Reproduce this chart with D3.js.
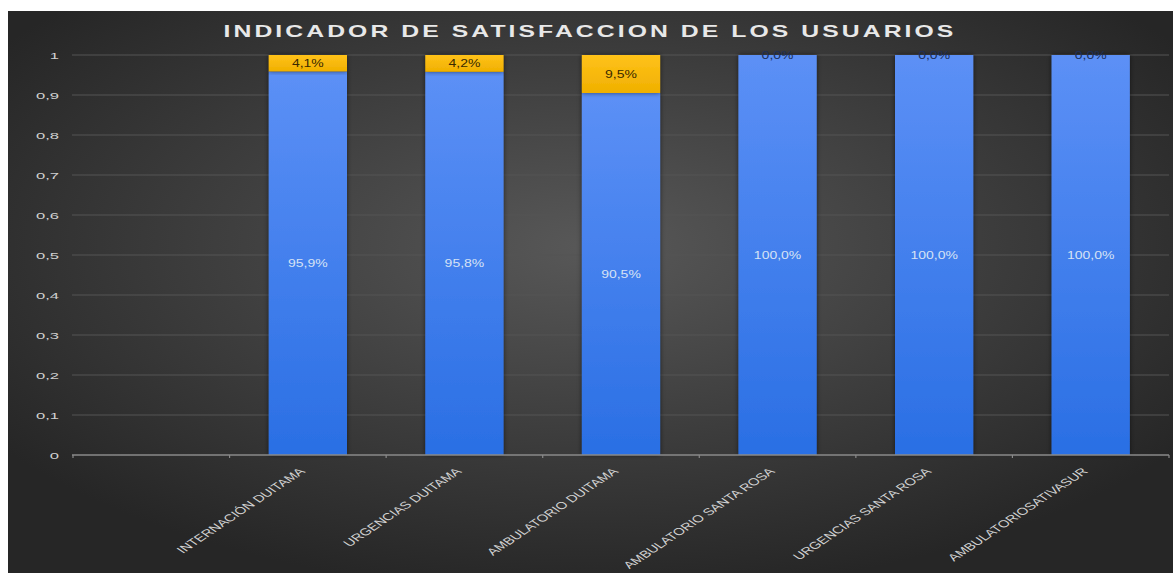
<!DOCTYPE html>
<html><head><meta charset="utf-8">
<script src="https://cdn.jsdelivr.net/npm/d3@7"></script>
<style>html,body{margin:0;padding:0;background:#fff;}svg{display:block;}</style>
</head><body>
<svg id="c" width="1173" height="573"></svg>
<script>
const categories = ["", "INTERNACIÓN DUITAMA", "URGENCIAS DUITAMA", "AMBULATORIO DUITAMA", "AMBULATORIO SANTA ROSA", "URGENCIAS SANTA ROSA", "AMBULATORIOSATIVASUR"];
const satisfied = [null, 0.959, 0.958, 0.905, 1.0, 1.0, 1.0];
const notSatisfied = [null, 0.041, 0.042, 0.095, 0.0, 0.0, 0.0];
const yTicks = [0, 0.1, 0.2, 0.3, 0.4, 0.5, 0.6, 0.7, 0.8, 0.9, 1];
const title = "INDICADOR DE SATISFACCION DE LOS USUARIOS";

const FONT = "Liberation Sans, Arial, sans-serif";
const SX = 1.5; // horizontal stretch of the original picture
const svg = d3.select("#c");
const W = 1173, H = 573;
const defs = svg.append("defs");
const bg = defs.append("radialGradient").attr("id","bg").attr("cx","50%").attr("cy","42%").attr("r","62%");
bg.append("stop").attr("offset","0%").attr("stop-color","#585858");
bg.append("stop").attr("offset","100%").attr("stop-color","#262626");
const gb = defs.append("linearGradient").attr("id","gb").attr("x1",0).attr("y1",0).attr("x2",0).attr("y2",1);
gb.append("stop").attr("offset","0%").attr("stop-color","#5c90f6");
gb.append("stop").attr("offset","100%").attr("stop-color","#2a6fe4");
const gy = defs.append("linearGradient").attr("id","gy").attr("x1",0).attr("y1",0).attr("x2",0).attr("y2",1);
gy.append("stop").attr("offset","0%").attr("stop-color","#ffc21a");
gy.append("stop").attr("offset","100%").attr("stop-color","#f0b000");
const sh = defs.append("filter").attr("id","sh").attr("x","-20%").attr("y","-20%").attr("width","140%").attr("height","140%");
sh.append("feDropShadow").attr("dx",0).attr("dy",0).attr("stdDeviation",2.5).attr("flood-color","#000").attr("flood-opacity",0.55);

svg.append("rect").attr("x",8).attr("y",11).attr("width",W-8).attr("height",H-11).attr("fill","url(#bg)");

const x = d3.scaleBand().domain(categories.map((d,i)=>i)).range([73,1169]).paddingInner(0.5).paddingOuter(0.25);
const xb = d3.scaleBand().domain(categories.map((d,i)=>i)).range([73,1169]);
const y = d3.scaleLinear().domain([0,1]).range([455,55]);

// gridlines
svg.append("g").selectAll("line").data(yTicks.filter(t=>t>0)).join("line")
  .attr("x1",72).attr("x2",1169).attr("y1",d=>y(d)).attr("y2",d=>y(d))
  .attr("stroke","#555555").attr("stroke-width",1);

// y axis labels
const fmtTick = d => d3.format("~g")(d).replace(".", ",");
svg.append("g").selectAll("text").data(yTicks).join("text")
  .attr("transform",d=>`translate(59,${y(d)+4}) scale(1.75,1)`).attr("text-anchor","end")
  .attr("font-family",FONT).attr("font-size",9.5)
  .attr("fill","#d0d0d0").text(fmtTick);

// bars
const fmtPct = v => d3.format(".1%")(v).replace(".", ",");
const data = categories.map((c,i)=>({i, c, s: satisfied[i], n: notSatisfied[i]})).filter(d=>d.s!==null);
const g = svg.append("g");
g.selectAll("rect.s").data(data).join("rect").attr("class","s")
  .attr("x",d=>x(d.i)).attr("width",x.bandwidth())
  .attr("y",d=>y(d.s)).attr("height",d=>y(0)-y(d.s))
  .attr("fill","url(#gb)").attr("filter","url(#sh)");
g.selectAll("rect.n").data(data.filter(d=>d.n>0)).join("rect").attr("class","n")
  .attr("x",d=>x(d.i)).attr("width",x.bandwidth())
  .attr("y",d=>y(d.s+d.n)).attr("height",d=>y(d.s)-y(d.s+d.n))
  .attr("fill","url(#gy)").attr("filter","url(#sh)");

// axis line
svg.append("line").attr("x1",72).attr("x2",1169).attr("y1",y(0)).attr("y2",y(0)).attr("stroke","#8a8a8a").attr("stroke-width",1.5);
svg.append("g").selectAll("line").data(d3.range(categories.length+1)).join("line")
  .attr("x1",d=>73+d*xb.step()).attr("x2",d=>73+d*xb.step())
  .attr("y1",y(0)).attr("y2",y(0)+3).attr("stroke","#8a8a8a").attr("stroke-width",1.2);

// value labels
g.selectAll("text.s").data(data).join("text").attr("class","s")
  .attr("transform",d=>`translate(${x(d.i)+x.bandwidth()/2},${y(d.s/2)+4}) scale(1.4,1)`)
  .attr("text-anchor","middle").attr("font-family",FONT)
  .attr("font-size",10).attr("fill","#d6e2f5").text(d=>fmtPct(d.s));
g.selectAll("text.n").data(data).join("text").attr("class","n")
  .attr("transform",d=>`translate(${x(d.i)+x.bandwidth()/2},${y(d.s+d.n/2)+4}) scale(1.4,1)`)
  .attr("text-anchor","middle").attr("font-family",FONT)
  .attr("font-size",10).attr("fill",d=>d.n>0?"#3a2a00":"#1d2f5a").text(d=>fmtPct(d.n));

// category labels
svg.append("g").selectAll("text").data(categories.map((c,i)=>({c,i})).filter(d=>d.c)).join("text")
  .attr("transform",d=>`translate(${xb(d.i)+xb.bandwidth()/2-2},${y(0)+17}) scale(${SX},1) rotate(-45)`)
  .attr("text-anchor","end").attr("font-family",FONT)
  .attr("font-size",10).attr("fill","#d2d2d2").text(d=>d.c);

// title
svg.append("text").attr("transform",`translate(590,37) scale(${SX},1)`).attr("text-anchor","middle")
  .attr("font-family",FONT).attr("font-weight","bold")
  .attr("font-size",16.5).attr("letter-spacing",2.05).attr("fill","#e8e8e8").text(title);
</script>
</body></html>
